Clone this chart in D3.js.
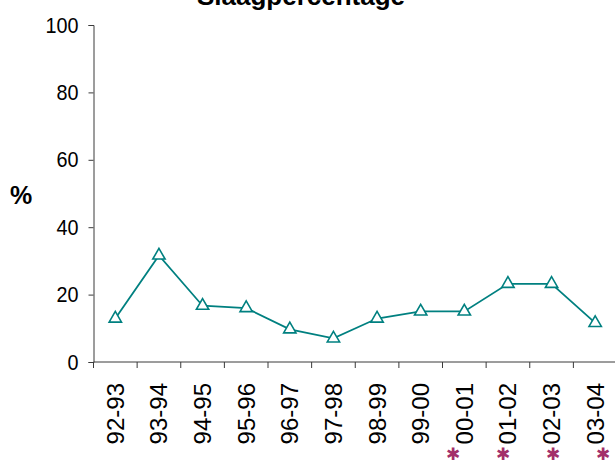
<!DOCTYPE html>
<html>
<head>
<meta charset="utf-8">
<script src="https://cdn.jsdelivr.net/npm/d3@7"></script>
<style>
  html, body { margin: 0; padding: 0; background: #fff; }
  svg { display: block; }
  text { font-family: "Liberation Sans", Arial, sans-serif; }
</style>
</head>
<body>
<svg id="chart" width="615" height="463"></svg>
<script>
// Pass rate per school year
const seasons = ["92-93","93-94","94-95","95-96","96-97","97-98","98-99","99-00","00-01","01-02","02-03","03-04"];
const passRate = [12.9, 31.6, 16.7, 16.0, 9.7, 7.0, 12.9, 15.0, 15.0, 23.2, 23.2, 11.6];
const yTicks = [0, 20, 40, 60, 80, 100];
// Seasons marked with an asterisk below the axis
const flagged = ["00-01", "01-02", "02-03", "03-04"];

const svg = d3.select("#chart");
const teal = "#008080";
const axisColor = "#3a3a3a";

const x = d3.scaleBand().domain(seasons).range([93.5, 617]);
const y = d3.scaleLinear().domain([0, 100]).range([362, 25]);

// Title (partly above the top edge)
svg.append("text")
  .attr("x", 301).attr("y", 5)
  .attr("text-anchor", "middle")
  .attr("font-size", 26).attr("font-weight", "bold")
  .text("Slaagpercentage");

// Y axis
const yAxis = svg.append("g")
  .attr("transform", `translate(${x.range()[0]},0)`)
  .call(d3.axisLeft(y).tickValues(yTicks).tickSize(5).tickPadding(10).tickFormat(d3.format("d")));
yAxis.select(".domain").attr("stroke", axisColor);
yAxis.selectAll(".tick line").attr("stroke", axisColor);
yAxis.selectAll(".tick text")
  .attr("font-size", 22).attr("fill", "#000")
  .attr("font-family", "Liberation Sans, Arial, sans-serif")
  .attr("transform", "translate(-15,0) scale(0.9,1) translate(15,0)");

// X axis with tick marks between categories
const xAxis = svg.append("g")
  .attr("transform", `translate(0,${y(0)})`);
xAxis.append("line")
  .attr("x1", x.range()[0]).attr("x2", x.range()[1])
  .attr("stroke", axisColor);
xAxis.selectAll("line.sep")
  .data(seasons)
  .join("line")
  .attr("class", "sep")
  .attr("x1", d => x(d)).attr("x2", d => x(d))
  .attr("y1", 0).attr("y2", 6)
  .attr("stroke", axisColor);
xAxis.selectAll("text.lbl")
  .data(seasons)
  .join("text")
  .attr("class", "lbl")
  .attr("transform", d => `translate(${x(d) + x.bandwidth() / 2 + 8.5},21) rotate(-90)`)
  .attr("text-anchor", "end")
  .attr("font-size", 24)
  .text(d => d);

// Y axis title
svg.append("text")
  .attr("x", 10).attr("y", 204)
  .attr("font-size", 25).attr("font-weight", "bold")
  .text("%");

// Line and triangle markers
const cx = d => x(d) + x.bandwidth() / 2;
const pts = seasons.map((s, i) => ({ s, v: passRate[i] }));

svg.append("path")
  .datum(pts)
  .attr("fill", "none")
  .attr("stroke", teal)
  .attr("stroke-width", 1.8)
  .attr("d", d3.line().x(d => cx(d.s)).y(d => y(d.v)));

svg.selectAll("path.marker")
  .data(pts)
  .join("path")
  .attr("class", "marker")
  .attr("d", d3.symbol(d3.symbolTriangle, 66))
  .attr("transform", d => `translate(${cx(d.s)},${y(d.v)})`)
  .attr("fill", "#fff")
  .attr("stroke", teal)
  .attr("stroke-width", 1.6);

// Asterisk row below the flagged seasons
const flagX = d3.scalePoint().domain(flagged).range([453, 603]);
svg.selectAll("text.flag")
  .data(flagged)
  .join("text")
  .attr("class", "flag")
  .attr("x", d => flagX(d))
  .attr("y", 460)
  .attr("text-anchor", "middle")
  .attr("font-size", 17)
  .attr("font-family", "DejaVu Sans, sans-serif")
  .attr("fill", "#a3306a")
  .text("\u2731");
</script>
</body>
</html>
